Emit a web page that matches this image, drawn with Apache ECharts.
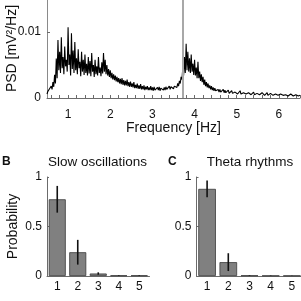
<!DOCTYPE html>
<html>
<head>
<meta charset="utf-8">
<script src="https://cdn.jsdelivr.net/npm/echarts@6/dist/echarts.min.js"></script>
<style>html,body{margin:0;padding:0;background:#fff;}#c{width:301px;height:301px;}</style>
</head>
<body>
<div id="c"></div>
<script>
// ---- Panel A: power spectral density (mV^2/Hz), sampled every 0.02 Hz from 0.5 Hz ----
const F_START = 0.5;
const F_STEP = 0.02;
const psd = [
  6e-4,10e-4,8e-4,14e-4,11e-4,18e-4,13e-4,24e-4,17e-4,35e-4,22e-4,60e-4,30e-4,88e-4,42e-4,70e-4,38e-4,92e-4,45e-4,62e-4,36e-4,78e-4,48e-4,58e-4,40e-4,
  107e-4,50e-4,66e-4,34e-4,98e-4,44e-4,72e-4,38e-4,85e-4,42e-4,60e-4,36e-4,74e-4,45e-4,55e-4,33e-4,70e-4,40e-4,58e-4,35e-4,66e-4,38e-4,52e-4,34e-4,62e-4,
  37e-4,56e-4,33e-4,68e-4,40e-4,50e-4,32e-4,58e-4,36e-4,48e-4,34e-4,62e-4,38e-4,46e-4,33e-4,54e-4,37e-4,68e-4,40e-4,58e-4,36e-4,50e-4,34e-4,44e-4,32e-4,
  42e-4,30e-4,38e-4,28e-4,36e-4,27e-4,34e-4,25e-4,32e-4,24e-4,30e-4,22e-4,29e-4,21e-4,30e-4,20e-4,27e-4,19e-4,26e-4,19e-4,28e-4,18e-4,24e-4,17e-4,25e-4,
  17e-4,22e-4,16e-4,24e-4,15e-4,20e-4,15e-4,22e-4,14e-4,19e-4,14e-4,21e-4,13e-4,18e-4,13e-4,19e-4,12e-4,17e-4,13e-4,18e-4,12e-4,16e-4,12e-4,18e-4,12e-4,
  16e-4,11e-4,17e-4,12e-4,15e-4,11e-4,16e-4,12e-4,17e-4,11e-4,15e-4,12e-4,18e-4,12e-4,16e-4,12e-4,17e-4,13e-4,16e-4,12e-4,18e-4,13e-4,17e-4,14e-4,19e-4,
  14e-4,18e-4,15e-4,21e-4,16e-4,22e-4,18e-4,26e-4,22e-4,32e-4,28e-4,45e-4,34e-4,62e-4,38e-4,82e-4,42e-4,70e-4,40e-4,60e-4,38e-4,66e-4,40e-4,52e-4,35e-4,
  58e-4,34e-4,46e-4,30e-4,55e-4,30e-4,40e-4,26e-4,36e-4,24e-4,32e-4,20e-4,28e-4,18e-4,24e-4,16e-4,22e-4,15e-4,19e-4,13e-4,18e-4,12e-4,16e-4,11e-4,15e-4,
  11e-4,14e-4,10e-4,13e-4,9e-4,13e-4,9e-4,12e-4,9e-4,13e-4,8e-4,12e-4,8e-4,11e-4,8e-4,12e-4,7e-4,10e-4,8e-4,11e-4,7e-4,10e-4,7e-4,9e-4,7e-4,
  10e-4,6e-4,9e-4,7e-4,11e-4,6e-4,9e-4,6e-4,8e-4,6e-4,10e-4,6e-4,9e-4,5e-4,8e-4,6e-4,9e-4,5e-4,8e-4,5e-4,9e-4,5e-4,8e-4,5e-4,7e-4,
  5e-4,8e-4,5e-4,7e-4,4e-4,8e-4,5e-4,7e-4,4e-4,7e-4,5e-4,8e-4,4e-4,6e-4,4e-4,7e-4,4e-4,6e-4,4e-4,7e-4,4e-4,6e-4,4e-4,6e-4,4e-4,
  7e-4,4e-4,6e-4,3e-4,6e-4,4e-4,6e-4,3e-4,5e-4,4e-4,6e-4,3e-4,5e-4,3e-4,6e-4,3e-4,5e-4,3e-4,5e-4,3e-4,5e-4,3e-4,5e-4,3e-4,4e-4,
  4e-4
];
const MARKER_FREQ = 3.72; // Hz, vertical grey line

// ---- Panels B and C: probabilities ----
const categories = ['1','2','3','4','5'];
const slowMean = [0.775, 0.24, 0.025, 0.006, 0.006];
const slowErr  = [0.135, 0.125, 0.012, 0.003, 0.003];
const thetaMean = [0.88, 0.14, 0.006, 0.004, 0.004];
const thetaErr  = [0.085, 0.09, 0.003, 0.002, 0.002];

const psdData = psd.map((v, i) => [F_START + i * F_STEP, v]);

const FONT = 'Liberation Sans, Arial, sans-serif';
const AXC = '#6b6b6b';

function errSeries(xi, yi, mean, err) {
  return {
    type: 'custom', xAxisIndex: xi, yAxisIndex: yi, z: 5,
    data: mean.map((m, i) => [i, m, err[i]]),
    renderItem: function (params, api) {
      const i = api.value(0), m = api.value(1), e = api.value(2);
      const p1 = api.coord([i, m + e]);
      const p2 = api.coord([i, Math.max(0, m - e)]);
      return { type: 'line', shape: { x1: p1[0], y1: p1[1], x2: p2[0], y2: p2[1] },
               style: { stroke: '#111', lineWidth: 1.6 } };
    }
  };
}

const chart = echarts.init(document.getElementById('c'), null, { renderer: 'canvas' });
chart.setOption({
  animation: false,
  backgroundColor: '#fff',
  textStyle: { fontFamily: FONT },
  title: [
    { text: 'Slow oscillations', left: 97.5, top: 155, textAlign: 'center', padding: 0,
      textStyle: { fontSize: 13.5, fontWeight: 'normal', color: '#111', fontFamily: FONT } },
    { text: 'Theta rhythms', left: 250, top: 155, textAlign: 'center', padding: 0,
      textStyle: { fontSize: 13.5, fontWeight: 'normal', color: '#111', fontFamily: FONT } },
    { text: 'B', left: 2, top: 156, padding: 0,
      textStyle: { fontSize: 12, fontWeight: 'bold', color: '#111', fontFamily: FONT } },
    { text: 'C', left: 168, top: 156, padding: 0,
      textStyle: { fontSize: 12, fontWeight: 'bold', color: '#111', fontFamily: FONT } }
  ],
  grid: [
    { left: 47, right: 1, top: -1, height: 99, outerBoundsMode: 'none', containLabel: false },
    { left: 51.2, right: 1, top: -1, height: 99, outerBoundsMode: 'none', containLabel: false },
    { left: 47, width: 102.5, top: 177, height: 99, outerBoundsMode: 'none', containLabel: false },
    { left: 196.5, width: 106, top: 177, height: 99, outerBoundsMode: 'none', containLabel: false }
  ],
  xAxis: [
    { type: 'value', gridIndex: 0, min: 0.5, max: 6.5,
      name: 'Frequency [Hz]', nameLocation: 'middle', nameGap: 23, nameMoveOverlap: false,
      nameTextStyle: { fontSize: 14, color: '#111', fontFamily: FONT },
      axisLine: { show: true, lineStyle: { color: AXC, width: 1 } },
      axisTick: { show: false }, axisLabel: { show: false }, splitLine: { show: false } },
    { type: 'value', gridIndex: 1, min: 0.6, max: 6.5, interval: 0.2,
      axisLine: { show: false },
      axisTick: { show: true, inside: true, length: 3, lineStyle: { color: AXC } },
      axisLabel: { show: true, fontSize: 12, color: '#111', margin: 11, fontFamily: FONT,
        formatter: v => (Math.abs(v - Math.round(v)) < 1e-6 ? String(Math.round(v)) : '') },
      splitLine: { show: false } },
    { type: 'category', gridIndex: 2, data: categories,
      axisLine: { lineStyle: { color: AXC } }, axisTick: { show: false },
      axisLabel: { fontSize: 12, color: '#111', margin: 5, fontFamily: FONT } },
    { type: 'category', gridIndex: 3, data: categories,
      axisLine: { lineStyle: { color: AXC } }, axisTick: { show: false },
      axisLabel: { fontSize: 12, color: '#111', margin: 5, fontFamily: FONT } }
  ],
  yAxis: [
    { type: 'value', gridIndex: 0, min: 0, max: 0.015, interval: 0.01,
      name: 'PSD [mV²/Hz]', nameLocation: 'middle', nameGap: 28, nameMoveOverlap: false,
      nameTextStyle: { fontSize: 14, color: '#111', fontFamily: FONT },
      axisLine: { show: true, lineStyle: { color: '#8a8a8a' } },
      axisTick: { show: true, inside: true, length: 3, lineStyle: { color: AXC } },
      axisLabel: { fontSize: 12, color: '#111', margin: 6, fontFamily: FONT,
        formatter: v => (v === 0 ? '0' : (Math.abs(v - 0.01) < 1e-9 ? '0.01' : '')) },
      splitLine: { show: false } },
    { type: 'value', gridIndex: 1, min: 0, max: 0.015, show: false },
    { type: 'value', gridIndex: 2, min: 0, max: 1, interval: 0.5,
      name: 'Probability', nameLocation: 'middle', nameGap: 27, nameMoveOverlap: false,
      nameTextStyle: { fontSize: 14, color: '#111', fontFamily: FONT },
      axisLine: { show: true, lineStyle: { color: AXC } },
      axisTick: { show: true, inside: true, length: 2, lineStyle: { color: AXC } },
      axisLabel: { fontSize: 12, color: '#111', margin: 5, fontFamily: FONT,
        formatter: v => String(v) },
      splitLine: { show: false } },
    { type: 'value', gridIndex: 3, min: 0, max: 1, interval: 0.5,
      axisLine: { show: true, lineStyle: { color: AXC } },
      axisTick: { show: true, inside: true, length: 2, lineStyle: { color: AXC } },
      axisLabel: { fontSize: 12, color: '#111', margin: 5, fontFamily: FONT,
        formatter: v => String(v) },
      splitLine: { show: false } }
  ],
  series: [
    { type: 'line', xAxisIndex: 0, yAxisIndex: 0, data: psdData, showSymbol: false,
      symbol: 'none', sampling: null,
      lineStyle: { color: '#000', width: 1.1 },
      markLine: { silent: true, symbol: 'none', label: { show: false },
        lineStyle: { color: '#a8a8a8', width: 2, type: 'solid' },
        data: [{ xAxis: MARKER_FREQ }] } },
    { type: 'bar', xAxisIndex: 2, yAxisIndex: 2, data: slowMean, barCategoryGap: '17%',
      itemStyle: { color: '#808080', borderColor: '#3a3a3a', borderWidth: 0.8 } },
    errSeries(2, 2, slowMean, slowErr),
    { type: 'bar', xAxisIndex: 3, yAxisIndex: 3, data: thetaMean, barCategoryGap: '17%',
      itemStyle: { color: '#808080', borderColor: '#3a3a3a', borderWidth: 0.8 } },
    errSeries(3, 3, thetaMean, thetaErr)
  ]
});
</script>
</body>
</html>
